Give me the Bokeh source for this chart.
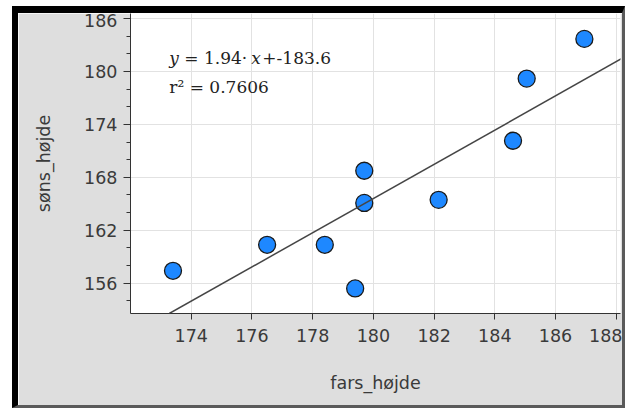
from bokeh.plotting import figure
from bokeh.models import Range1d, FixedTicker, Slope, Label, LinearAxis
from bokeh.layouts import column
from bokeh.embed import file_html
from bokeh.resources import INLINE

# ---- data ----
fars_hojde = [173.4, 176.5, 178.4, 179.4, 179.7, 179.7, 182.15, 184.6, 185.05, 186.95]
sons_hojde = [157.4, 160.35, 160.35, 155.4, 168.75, 165.1, 165.45, 172.15, 179.2, 183.7]
slope_a = 1.94
intercept_b = -183.6
r2 = 0.7606
x_ticks = [174, 176, 178, 180, 182, 184, 186, 188]
y_ticks = [156, 162, 168, 174, 180, 186]
y_minor = [152, 154, 156, 158, 160, 162, 164, 166, 168, 170, 172, 174, 176, 178, 180, 182, 184, 186]

p = figure(width=604, height=392, output_backend="svg", toolbar_location=None,
           x_range=Range1d(172.0, 188.14), y_range=Range1d(152.56, 186.58),
           min_border_left=112, min_border_right=2, min_border_top=0, min_border_bottom=92,
           border_fill_color="#dedede", background_fill_color="white",
           outline_line_color=None)

for ax in (p.xaxis[0], p.yaxis[0]):
    ax.axis_line_color = "#333333"
    ax.major_tick_line_color = "#333333"
    ax.minor_tick_line_color = "#333333"
    ax.major_tick_in = 0
    ax.minor_tick_in = 0
    ax.major_label_text_font = "DejaVu Sans"
    ax.major_label_text_font_size = "17.5px"
    ax.major_label_text_color = "#3a3a3a"
    ax.axis_label_text_font = "DejaVu Sans"
    ax.axis_label_text_font_size = "17.5px"
    ax.axis_label_text_font_style = "normal"
    ax.axis_label_text_color = "#3a3a3a"

p.xaxis[0].ticker = FixedTicker(ticks=x_ticks)
p.xaxis[0].major_tick_out = 6
p.xaxis[0].minor_tick_out = 0
p.xaxis[0].major_label_standoff = 9
p.xaxis[0].axis_label = "fars_højde"
p.xaxis[0].axis_label_standoff = 28

p.yaxis[0].ticker = FixedTicker(ticks=y_ticks, minor_ticks=y_minor)
p.yaxis[0].major_tick_out = 7
p.yaxis[0].minor_tick_out = 4
p.yaxis[0].major_label_standoff = 6

# y-axis title on a bare axis, centred on the visible part of the window
title_axis = LinearAxis(ticker=FixedTicker(ticks=[]), bounds=(155.3, 185.2),
                        axis_line_color=None, major_tick_line_color=None, minor_tick_line_color=None,
                        major_tick_out=0, minor_tick_out=0,
                        axis_label="søns_højde", axis_label_standoff=28,
                        axis_label_text_font="DejaVu Sans", axis_label_text_font_size="17.5px",
                        axis_label_text_font_style="normal", axis_label_text_color="#3a3a3a")
p.add_layout(title_axis, "left")

p.xgrid.grid_line_color = "#e2e2e2"
p.ygrid.grid_line_color = "#e2e2e2"

p.add_layout(Slope(gradient=slope_a, y_intercept=intercept_b, line_color="#454545", line_width=1.5))

p.scatter(fars_hojde, sons_hojde, size=17, fill_color="#1E88FF", line_color="#1a1a1a", line_width=1.3)

eq_font = "DejaVu Serif"
ax0 = 173.28
pieces = [("y", "italic", 0), ("= 1.94·", "normal", 15), ("x", "italic", 82), ("+-183.6", "normal", 93)]
for txt, style, off in pieces:
    p.add_layout(Label(x=ax0, y=181.56, x_offset=off, text=txt, text_font=eq_font,
                       text_font_size="17px", text_font_style=style, text_color="#222222",
                       text_baseline="alphabetic"))
p.add_layout(Label(x=ax0, y=178.22, text="r² = %.4f" % r2, text_font=eq_font,
                   text_font_size="17px", text_color="#222222", text_baseline="alphabetic"))

layout = column(p, styles={"border-top": "7px solid #000000", "border-left": "6px solid #000000",
                           "border-right": "3px solid #5a5a5a", "border-bottom": "3px solid #5a5a5a",
                           "margin-left": "12px", "margin-top": "6px"})

open("out.html", "w").write(file_html(layout, INLINE))
